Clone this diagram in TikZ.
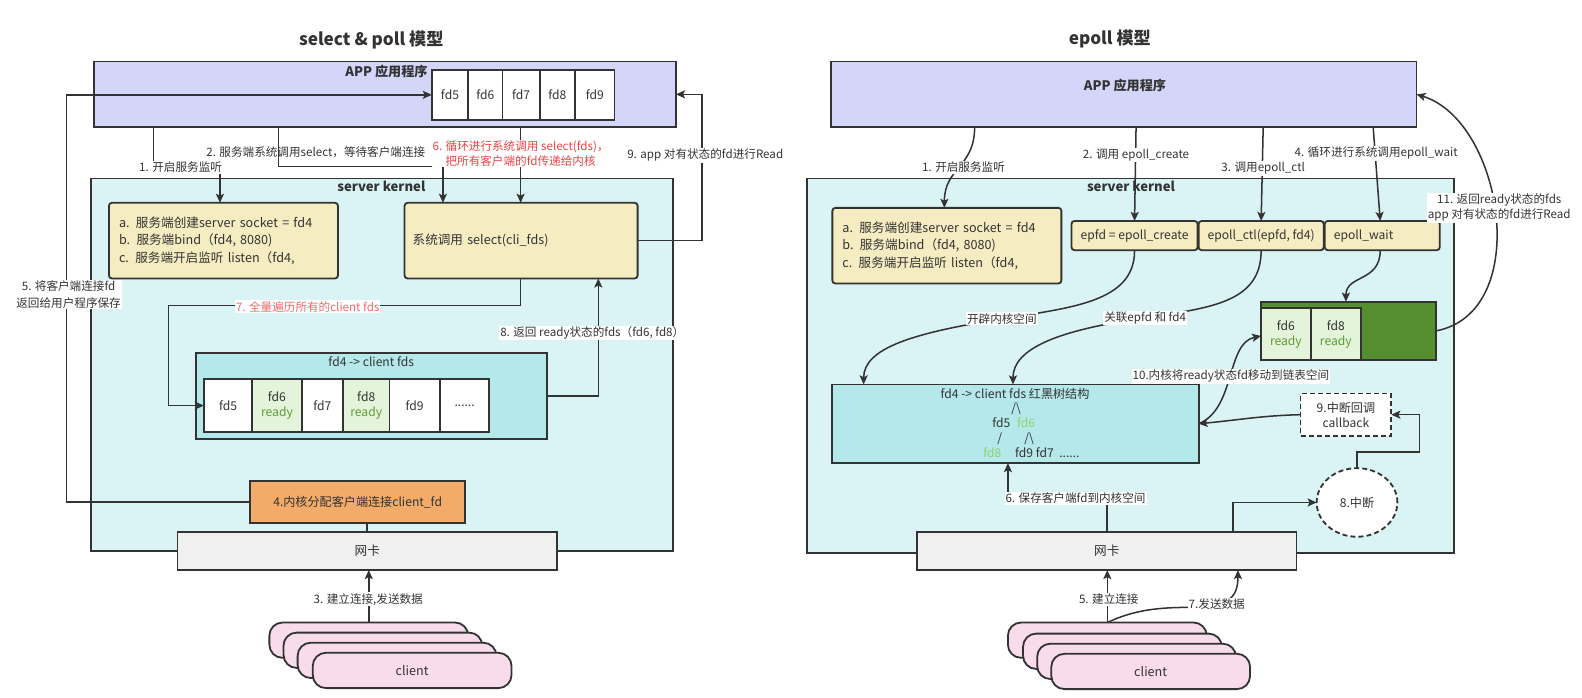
\documentclass[tikz,border=0pt]{standalone}
\usepackage{fontspec}
\setmainfont{Noto Sans CJK SC}
\usetikzlibrary{arrows.meta,shapes.geometric}
\definecolor{ink}{HTML}{333333}
\definecolor{appc}{HTML}{D3D6F8}
\definecolor{kerc}{HTML}{DAF4F5}
\definecolor{beige}{HTML}{F5ECC2}
\definecolor{rbc}{HTML}{B5E8EA}
\definecolor{lgreen}{HTML}{E3F4DA}
\definecolor{readyc}{HTML}{5E9C36}
\definecolor{gboxc}{HTML}{548E2E}
\definecolor{orangec}{HTML}{F2AB68}
\definecolor{nicc}{HTML}{F0F0F0}
\definecolor{pinkc}{HTML}{F9DCEB}
\definecolor{redA}{HTML}{E94444}
\definecolor{redB}{HTML}{F26B6B}
\definecolor{tgreen}{HTML}{8ED16C}
\newcommand\lblfont{\fontsize{11.5}{14.5}\selectfont}
\newcommand\boxfont{\fontsize{12.5}{17.5}\selectfont}
\newcommand\cellfont{\fontsize{12}{15}\selectfont}
\newcommand\headfont{\fontsize{13}{15}\selectfont\bfseries}
\newcommand\titlefont{\fontsize{17}{20}\selectfont\bfseries}
\begin{document}
\begin{tikzpicture}[x=1pt,y=-1pt,
  box/.style={draw=ink, line width=1.8pt, inner sep=0pt, outer sep=0pt, text=ink, anchor=north west},
  cell/.style={box, fill=white, font=\cellfont, align=center},
  rcell/.style={cell, fill=lgreen},
  pill/.style={box, fill=pinkc, rounded corners=13pt, minimum width=197pt, minimum height=35pt, font=\boxfont},
  sbox/.style={box, fill=beige, rounded corners=3pt, font=\boxfont, align=left},
  conn/.style={draw=ink, line width=1.5pt, -{Stealth[length=9pt,width=8pt,inset=2pt]}},
  plain/.style={draw=ink, line width=1.5pt},
  lbl/.style={fill=white, inner sep=1pt, text=ink, font=\lblfont, align=center},
  txt/.style={text=ink, inner sep=0pt, font=\cellfont},
  dashbox/.style={draw=ink, line width=1.8pt, dash pattern=on 5pt off 3pt, fill=white, inner sep=0pt, outer sep=0pt, text=ink, font=\cellfont, align=center}
]
\useasboundingbox (0,0) rectangle (1568,691);

% ---------------- titles ----------------
\node[text=ink, font=\titlefont] (titleL) at (368,40) {select \& poll 模型};
\node[text=ink, font=\titlefont] (titleR) at (1100,39) {epoll 模型};

% ================= LEFT =================
\node[box, fill=appc, minimum width=577pt, minimum height=65pt] (appL) at (93,61) {};
\node[text=ink, font=\headfont] (appLt) at (383,71) {APP 应用程序};
\node[cell, minimum width=36pt, minimum height=50pt] (aL5) at (428,69) {fd5};
\node[cell, minimum width=34pt, minimum height=50pt] (aL6) at (464,69) {fd6};
\node[cell, minimum width=37pt, minimum height=50pt] (aL7) at (498,69) {fd7};
\node[cell, minimum width=35pt, minimum height=50pt] (aL8) at (535,69) {fd8};
\node[cell, minimum width=39pt, minimum height=50pt] (aL9) at (570,69) {fd9};

\node[box, fill=kerc, minimum width=577pt, minimum height=369pt] (kerL) at (90,177) {};
\node[text=ink, font=\headfont] (kerLt) at (378,185) {server kernel};

\node[sbox, minimum width=227pt, minimum height=75pt, text width=207pt] (abcL) at (108,201)
  {a. 服务端创建server socket = fd4\\b. 服务端bind（fd4, 8080)\\c. 服务端开启监听 listen（fd4,};
\node[sbox, minimum width=231pt, minimum height=75pt, text width=215pt] (selL) at (401,201)
  {系统调用 select(cli\_fds)};

\node[box, fill=rbc, minimum width=348pt, minimum height=85pt] (fdsL) at (194,350) {};
\node[txt] (fdsLt) at (368,358) {fd4 -> client fds};
\node[cell, minimum width=48pt, minimum height=52pt] (bL1) at (202,376) {fd5};
\node[rcell, minimum width=49pt, minimum height=52pt] (bL2) at (250,376) {fd6\\{\color{readyc}ready}};
\node[cell, minimum width=41pt, minimum height=52pt] (bL3) at (299,376) {fd7};
\node[rcell, minimum width=46pt, minimum height=52pt] (bL4) at (340,376) {fd8\\{\color{readyc}ready}};
\node[cell, minimum width=50pt, minimum height=52pt] (bL5) at (386,376) {fd9};
\node[cell, minimum width=49pt, minimum height=52pt] (bL6) at (436,376) {......};

\node[box, fill=orangec, minimum width=213pt, minimum height=41pt, font=\cellfont] (orL) at (248,477) {4.内核分配客户端连接client\_fd};
\node[box, fill=nicc, minimum width=376pt, minimum height=38pt, font=\boxfont] (nicL) at (176,527) {网卡};

\node[pill] (pL1) at (267,617) {};
\node[pill] (pL2) at (281,627) {};
\node[pill] (pL3) at (295,637) {};
\node[pill] (pL4) at (310,647) {client};

% left connectors
\draw[conn] ([xshift=59pt]appL.south west) |- (180,166) -| ([xshift=110pt]abcL.north west);
\draw[conn] ([xshift=183pt]appL.south west) |- (350,165) -| ([xshift=38pt]selL.north west);
\draw[conn] ([xshift=423pt]appL.south west) -- ([xshift=115pt]selL.north west);
\draw[conn] (selL.east) -| (696,160) |- (appL.east);
\draw[conn] ([xshift=115pt]selL.south west) |- (300,303) -| (167,380) |- (bL1.west);
\draw[conn] (fdsL.east) -| ([xshift=192pt]selL.south west);
\draw[conn] (orL.west) -| (66,300) |- (aL5.west);
\draw[plain] (nicL.north |- orL.south) -- (nicL.north);
\draw[conn] (pL1.north) -- (nicL.south -| pL1.north);

% left labels
\node[lbl] (l1) at (179,166) {1. 开启服务监听};
\node[lbl, fill=none] (l2) at (313,151) {2. 服务端系统调用select，等待客户端连接};
\node[lbl, text=redA] (l6) at (516,152) {6. 循环进行系统调用 select(fds)，\\把所有客户端的fd传递给内核};
\node[lbl] (l9) at (699,154) {9. app 对有状态的fd进行Read};
\node[lbl, text=redB] (l7) at (305,304) {7. 全量遍历所有的client fds};
\node[lbl] (l8) at (587,330) {8. 返回 ready状态的fds（fd6, fd8）};
\node[lbl, font=\fontsize{11.5}{16}\selectfont] (l5) at (68,292) {5. 将客户端连接fd\\返回给用户程序保存};
\node[lbl] (l3) at (365,594) {3. 建立连接,发送数据};

% ================= RIGHT =================
\node[box, fill=appc, minimum width=580pt, minimum height=65pt] (appR) at (824,61) {};
\node[text=ink, font=\headfont] (appRt) at (1115,85) {APP 应用程序};

\node[box, fill=kerc, minimum width=641pt, minimum height=371pt] (kerR) at (800,177) {};
\node[text=ink, font=\headfont] (kerRt) at (1121,185) {server kernel};

\node[sbox, minimum width=227pt, minimum height=75pt, text width=207pt] (abcR) at (825,206)
  {a. 服务端创建server socket = fd4\\b. 服务端bind（fd4, 8080)\\c. 服务端开启监听 listen（fd4,};
\node[sbox, font=\cellfont, minimum width=125pt, minimum height=29pt] (epfd) at (1062,219) {epfd = epoll\_create};
\node[sbox, font=\cellfont, minimum width=124pt, minimum height=29pt] (ctl) at (1188,219) {epoll\_ctl(epfd, fd4)};
\node[sbox, font=\cellfont, minimum width=114pt, minimum height=29pt, text width=96pt] (wait) at (1313,219) {epoll\_wait};

\node[box, fill=gboxc, minimum width=173pt, minimum height=58pt] (green) at (1250,299) {};
\node[rcell, minimum width=49pt, minimum height=51.5pt] (g6) at (1250,305.5) {fd6\\{\color{readyc}ready}};
\node[rcell, minimum width=50pt, minimum height=51.5pt] (g8) at (1299,305.5) {fd8\\{\color{readyc}ready}};

\node[box, fill=rbc, minimum width=363pt, minimum height=78pt] (rb) at (825,381) {};
\node[txt] (t1) at (1006,390) {fd4 -> client fds 红黑树结构};
\node[txt] (t2) at (1007,405) {/\textbackslash};
\node[txt] (t3) at (992.5,419) {fd5};
\node[txt, text=tgreen] (t4) at (1017,419) {fd6};
\node[txt] (t5) at (991,434.5) {/};
\node[txt] (t6) at (1020,434.5) {/\textbackslash};
\node[txt, text=tgreen] (t7) at (983.5,449) {fd8};
\node[txt] (t8) at (1038,449) {fd9 fd7\ \ ......};

\node[dashbox, anchor=north west, minimum width=90pt, minimum height=42pt] (cb) at (1289,390) {9.中断回调\\callback};
\node[dashbox, ellipse, minimum width=80pt, minimum height=68pt] (circ) at (1345,498) {8.中断};

\node[box, fill=nicc, minimum width=376pt, minimum height=38pt, font=\boxfont] (nicR) at (909,527) {网卡};

\node[pill] (pR1) at (999,617) {};
\node[pill] (pR2) at (1014,628) {};
\node[pill] (pR3) at (1028,638) {};
\node[pill] (pR4) at (1042,648) {client};

% right connectors
\draw[conn] ([xshift=142pt]appR.south west) .. controls +(0,40) and +(0,-40) .. ([xshift=111pt]abcR.north west);
\draw[conn] ([xshift=302pt]appR.south west) -- (epfd.north);
\draw[conn] ([xshift=428pt]appR.south west) -- ([xshift=62pt]ctl.north west);
\draw[conn] ([xshift=537pt]appR.south west) -- ([xshift=55pt]wait.north west);
\draw[conn] (epfd.south) .. controls (1125,300) and (1060,305) .. (993,316) .. controls (905,330) and (856,345) .. ([xshift=31pt]rb.north west);
\draw[conn] ([xshift=62pt]ctl.south west) .. controls (1250,300) and (1200,305) .. (1135,315) .. controls (1050,327) and (1004,345) .. ([xshift=179pt]rb.north west);
\draw[conn] ([xshift=55pt]wait.south west) .. controls (1368,280) and (1334,272) .. ([xshift=84pt]green.north west);
\draw[conn] (green.east) .. controls (1520,310) and (1490,120) .. (appR.east);
\draw[conn] (rb.east) .. controls (1225,405) and (1215,340) .. ([yshift=-5pt]green.west);
\draw[conn] (cb.west) .. controls (1250,412) and (1230,416) .. (rb.east);
\draw[conn] (circ.north) |- (1407,448) |- (cb.east);
\draw[conn] ([xshift=313pt]nicR.north west) |- (circ.west);
\draw[conn] (nicR.north) |- (1050,494) -| ([xshift=174pt]rb.south west);
\draw[conn] (pR1.north) -- (nicR.south -| pR1.north);
\draw[conn] (pR1.north) .. controls (1125,604) and (1150,602) .. (1180,602) .. controls (1218,602) and (1227,592) .. ([xshift=318pt]nicR.south west);

% right labels
\node[lbl] (r1) at (955,166) {1. 开启服务监听};
\node[lbl] (r2) at (1126,154) {2. 调用 epoll\_create};
\node[lbl] (r3) at (1252,167) {3. 调用epoll\_ctl};
\node[lbl] (r4) at (1364,152) {4. 循环进行系统调用epoll\_wait};
\node[lbl] (r5) at (993,316) {开辟内核空间};
\node[lbl] (r6) at (1135,315) {关联epfd 和 fd4};
\node[lbl] (r10) at (1220,373) {10.内核将ready状态fd移动到链表空间};
\node[lbl, font=\fontsize{11.5}{15}\selectfont] (r11) at (1486,206) {11. 返回ready状态的fds\\app 对有状态的fd进行Read};
\node[lbl] (r6b) at (1066,494) {6. 保存客户端fd到内核空间};
\node[lbl] (r5b) at (1099,594) {5. 建立连接};
\node[lbl] (r7b) at (1206,599) {7.发送数据};
\end{tikzpicture}
\end{document}
